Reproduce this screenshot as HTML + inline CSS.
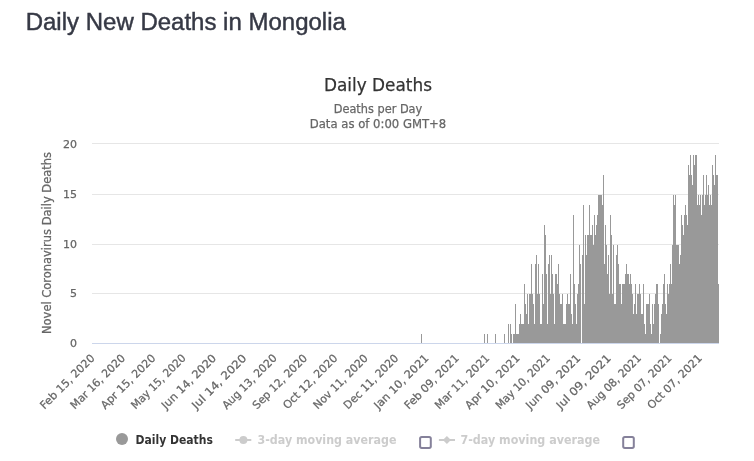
<!DOCTYPE html>
<html><head><meta charset="utf-8"><title>Daily New Deaths in Mongolia</title>
<style>
html,body{margin:0;padding:0;background:#fff;}
body{width:754px;height:461px;overflow:hidden;position:relative;}
h3{position:absolute;left:25.7px;top:7.6px;margin:0;font:normal 24px/28px "Liberation Sans",Arial,sans-serif;color:#363945;white-space:nowrap;transform:scaleY(1.015);transform-origin:0 22px;-webkit-text-stroke:0.45px #363945;}
svg{position:absolute;left:0;top:0;}
svg text{font-family:'DejaVu Sans','Liberation Sans',sans-serif;}
</style></head><body>
<h3>Daily New Deaths in Mongolia</h3>
<svg width="754" height="461" viewBox="0 0 754 461">
<g shape-rendering="crispEdges"><path d="M92 143.5H719" stroke="#e6e6e6" stroke-width="1"/><path d="M92 194.5H719" stroke="#e6e6e6" stroke-width="1"/><path d="M92 244.5H719" stroke="#e6e6e6" stroke-width="1"/><path d="M92 293.5H719" stroke="#e6e6e6" stroke-width="1"/></g>
<path d="M421 334H422V343H421ZM484 334H485V343H484ZM487 334H488V343H487ZM495 334H496V343H495ZM504 334H505V343H504ZM508 324H509V343H508ZM510 324H511V343H510ZM511 334H512V343H511ZM513 334H515V343H513ZM515 304H516V343H515ZM516 334H519V343H516ZM519 324H520V343H519ZM520 314H521V343H520ZM521 324H524V343H521ZM524 284H525V343H524ZM525 304H526V343H525ZM526 314H527V343H526ZM527 294H528V343H527ZM528 324H529V343H528ZM529 294H531V343H529ZM531 264H532V343H531ZM532 294H533V343H532ZM533 304H534V343H533ZM534 324H535V343H534ZM535 264H536V343H535ZM536 255H537V343H536ZM537 294H538V343H537ZM538 264H539V343H538ZM539 294H540V343H539ZM540 324H542V343H540ZM542 274H543V343H542ZM543 304H544V343H543ZM544 225H545V343H544ZM545 235H546V343H545ZM546 274H547V343H546ZM547 324H548V343H547ZM548 264H549V343H548ZM549 255H550V343H549ZM550 294H551V343H550ZM551 255H552V343H551ZM552 274H553V343H552ZM553 294H554V343H553ZM554 324H555V343H554ZM555 274H557V343H555ZM557 284H558V343H557ZM558 264H559V343H558ZM559 294H560V343H559ZM560 304H562V343H560ZM562 294H563V343H562ZM563 324H566V343H563ZM566 304H567V343H566ZM567 294H568V343H567ZM568 304H570V343H568ZM570 274H571V343H570ZM571 314H572V343H571ZM572 324H573V343H572ZM573 215H574V343H573ZM574 284H575V343H574ZM575 304H576V343H575ZM576 324H577V343H576ZM577 294H578V343H577ZM578 284H579V343H578ZM579 245H580V343H579ZM580 264H581V343H580ZM582 255H583V343H582ZM583 205H584V343H583ZM584 304H585V343H584ZM585 235H586V343H585ZM586 255H587V343H586ZM587 235H589V343H587ZM589 205H590V343H589ZM590 235H592V343H590ZM592 225H593V343H592ZM593 245H594V343H593ZM594 215H595V343H594ZM595 235H596V343H595ZM596 225H597V343H596ZM597 215H598V343H597ZM598 195H602V343H598ZM602 205H603V343H602ZM603 175H604V343H603ZM604 264H605V343H604ZM605 225H606V343H605ZM606 245H607V343H606ZM607 274H608V343H607ZM608 255H609V343H608ZM609 294H610V343H609ZM610 215H611V343H610ZM611 235H612V343H611ZM612 294H613V343H612ZM613 245H614V343H613ZM614 304H616V343H614ZM616 255H617V343H616ZM617 245H618V343H617ZM618 264H619V343H618ZM619 284H621V343H619ZM621 304H622V343H621ZM622 284H625V343H622ZM625 274H626V343H625ZM626 264H627V343H626ZM627 274H629V343H627ZM629 284H630V343H629ZM630 274H631V343H630ZM631 284H632V343H631ZM632 294H633V343H632ZM633 314H634V343H633ZM634 304H635V343H634ZM635 284H636V343H635ZM636 314H637V343H636ZM637 294H639V343H637ZM639 284H640V343H639ZM640 294H641V343H640ZM641 314H643V343H641ZM643 284H644V343H643ZM644 324H645V343H644ZM645 334H646V343H645ZM646 304H649V343H646ZM649 294H650V343H649ZM650 324H651V343H650ZM651 334H652V343H651ZM652 304H653V343H652ZM653 324H654V343H653ZM654 304H655V343H654ZM655 294H656V343H655ZM656 284H658V343H656ZM658 304H659V343H658ZM660 334H661V343H660ZM661 314H662V343H661ZM662 304H663V343H662ZM663 284H664V343H663ZM664 274H665V343H664ZM665 304H666V343H665ZM666 314H667V343H666ZM667 284H668V343H667ZM668 294H669V343H668ZM669 284H670V343H669ZM670 264H671V343H670ZM671 284H672V343H671ZM672 245H673V343H672ZM673 195H674V343H673ZM674 205H675V343H674ZM675 195H676V343H675ZM676 245H679V343H676ZM679 264H680V343H679ZM680 255H681V343H680ZM681 215H682V343H681ZM682 225H683V343H682ZM683 235H684V343H683ZM684 215H685V343H684ZM685 205H686V343H685ZM686 215H687V343H686ZM687 225H688V343H687ZM688 165H689V343H688ZM689 175H690V343H689ZM690 155H691V343H690ZM691 175H692V343H691ZM692 185H693V343H692ZM693 155H694V343H693ZM694 165H695V343H694ZM695 155H697V343H695ZM697 205H698V343H697ZM698 195H699V343H698ZM699 205H700V343H699ZM700 195H701V343H700ZM701 215H702V343H701ZM702 195H703V343H702ZM703 175H704V343H703ZM704 205H705V343H704ZM705 195H706V343H705ZM706 175H707V343H706ZM707 195H708V343H707ZM708 185H709V343H708ZM709 205H710V343H709ZM710 195H711V343H710ZM711 205H712V343H711ZM712 165H713V343H712ZM713 175H714V343H713ZM714 185H715V343H714ZM715 155H716V343H715ZM716 175H718V343H716ZM718 284H719V343H718Z" fill="#999999" shape-rendering="crispEdges"/>
<path d="M92 343.5H719" stroke="#ccd6eb" stroke-width="1" shape-rendering="crispEdges"/>
<text x="378" y="90.5" text-anchor="middle" font-size="18" fill="#333333" stroke="#333333" stroke-width="0.25" textLength="108" lengthAdjust="spacingAndGlyphs">Daily Deaths</text>
<text x="378" y="113" text-anchor="middle" font-size="12" fill="#666666" stroke="#666666" stroke-width="0.25" textLength="88.5" lengthAdjust="spacingAndGlyphs">Deaths per Day</text>
<text x="378" y="128" text-anchor="middle" font-size="12" fill="#666666" stroke="#666666" stroke-width="0.25" textLength="136.5" lengthAdjust="spacingAndGlyphs">Data as of 0:00 GMT+8</text>
<text x="51" y="243" transform="rotate(-90 51 243)" text-anchor="middle" font-size="12" fill="#666666" stroke="#666666" stroke-width="0.25" textLength="182" lengthAdjust="spacingAndGlyphs">Novel Coronavirus Daily Deaths</text>
<g font-size="11" fill="#666666" stroke="#666666" stroke-width="0.25"><text x="77" y="148" text-anchor="end">20</text><text x="77" y="198" text-anchor="end">15</text><text x="77" y="248" text-anchor="end">10</text><text x="77" y="297" text-anchor="end">5</text><text x="77" y="347" text-anchor="end">0</text></g>
<g font-size="11" fill="#666666" stroke="#666666" stroke-width="0.25">
<text x="95.41" y="358.8" transform="rotate(-45 95.41 358.8)" text-anchor="end" textLength="72" lengthAdjust="spacingAndGlyphs">Feb 15, 2020</text>
<text x="125.77" y="358.8" transform="rotate(-45 125.77 358.8)" text-anchor="end" textLength="72" lengthAdjust="spacingAndGlyphs">Mar 16, 2020</text>
<text x="156.13" y="358.8" transform="rotate(-45 156.13 358.8)" text-anchor="end" textLength="72" lengthAdjust="spacingAndGlyphs">Apr 15, 2020</text>
<text x="186.50" y="358.8" transform="rotate(-45 186.50 358.8)" text-anchor="end" textLength="72" lengthAdjust="spacingAndGlyphs">May 15, 2020</text>
<text x="216.86" y="358.8" transform="rotate(-45 216.86 358.8)" text-anchor="end" textLength="72" lengthAdjust="spacingAndGlyphs">Jun 14, 2020</text>
<text x="247.22" y="358.8" transform="rotate(-45 247.22 358.8)" text-anchor="end" textLength="72" lengthAdjust="spacingAndGlyphs">Jul 14, 2020</text>
<text x="277.58" y="358.8" transform="rotate(-45 277.58 358.8)" text-anchor="end" textLength="72" lengthAdjust="spacingAndGlyphs">Aug 13, 2020</text>
<text x="307.95" y="358.8" transform="rotate(-45 307.95 358.8)" text-anchor="end" textLength="72" lengthAdjust="spacingAndGlyphs">Sep 12, 2020</text>
<text x="338.31" y="358.8" transform="rotate(-45 338.31 358.8)" text-anchor="end" textLength="72" lengthAdjust="spacingAndGlyphs">Oct 12, 2020</text>
<text x="368.67" y="358.8" transform="rotate(-45 368.67 358.8)" text-anchor="end" textLength="72" lengthAdjust="spacingAndGlyphs">Nov 11, 2020</text>
<text x="399.04" y="358.8" transform="rotate(-45 399.04 358.8)" text-anchor="end" textLength="72" lengthAdjust="spacingAndGlyphs">Dec 11, 2020</text>
<text x="429.40" y="358.8" transform="rotate(-45 429.40 358.8)" text-anchor="end" textLength="72" lengthAdjust="spacingAndGlyphs">Jan 10, 2021</text>
<text x="459.76" y="358.8" transform="rotate(-45 459.76 358.8)" text-anchor="end" textLength="72" lengthAdjust="spacingAndGlyphs">Feb 09, 2021</text>
<text x="490.13" y="358.8" transform="rotate(-45 490.13 358.8)" text-anchor="end" textLength="72" lengthAdjust="spacingAndGlyphs">Mar 11, 2021</text>
<text x="520.49" y="358.8" transform="rotate(-45 520.49 358.8)" text-anchor="end" textLength="72" lengthAdjust="spacingAndGlyphs">Apr 10, 2021</text>
<text x="550.85" y="358.8" transform="rotate(-45 550.85 358.8)" text-anchor="end" textLength="72" lengthAdjust="spacingAndGlyphs">May 10, 2021</text>
<text x="581.21" y="358.8" transform="rotate(-45 581.21 358.8)" text-anchor="end" textLength="72" lengthAdjust="spacingAndGlyphs">Jun 09, 2021</text>
<text x="611.58" y="358.8" transform="rotate(-45 611.58 358.8)" text-anchor="end" textLength="72" lengthAdjust="spacingAndGlyphs">Jul 09, 2021</text>
<text x="641.94" y="358.8" transform="rotate(-45 641.94 358.8)" text-anchor="end" textLength="72" lengthAdjust="spacingAndGlyphs">Aug 08, 2021</text>
<text x="672.30" y="358.8" transform="rotate(-45 672.30 358.8)" text-anchor="end" textLength="72" lengthAdjust="spacingAndGlyphs">Sep 07, 2021</text>
<text x="702.67" y="358.8" transform="rotate(-45 702.67 358.8)" text-anchor="end" textLength="72" lengthAdjust="spacingAndGlyphs">Oct 07, 2021</text>
</g>
<circle cx="122" cy="439" r="6" fill="#999999"/>
<text x="135.6" y="444" font-size="12" font-weight="bold" fill="#333333" textLength="77.3" lengthAdjust="spacingAndGlyphs">Daily Deaths</text>
<path d="M235.2 440H251.3" stroke="#cccccc" stroke-width="2"/><circle cx="243.4" cy="440" r="4" fill="#cccccc"/>
<text x="257.5" y="444" font-size="12" font-weight="bold" fill="#cccccc" textLength="139" lengthAdjust="spacingAndGlyphs">3-day moving average</text>
<rect x="419.1" y="436" width="12.7" height="12.9" rx="2.6" fill="#85819a"/><rect x="421.1" y="438" width="8.7" height="8.9" rx="0.7" fill="#ffffff"/>
<path d="M438.9 440H455" stroke="#cccccc" stroke-width="2"/><path d="M446.9 436l4 4l-4 4l-4-4z" fill="#cccccc"/>
<text x="460.5" y="444" font-size="12" font-weight="bold" fill="#cccccc" textLength="139.5" lengthAdjust="spacingAndGlyphs">7-day moving average</text>
<rect x="622.2" y="436" width="12.6" height="12.9" rx="2.6" fill="#85819a"/><rect x="624.2" y="438" width="8.6" height="8.9" rx="0.7" fill="#ffffff"/>
</svg>
</body></html>
